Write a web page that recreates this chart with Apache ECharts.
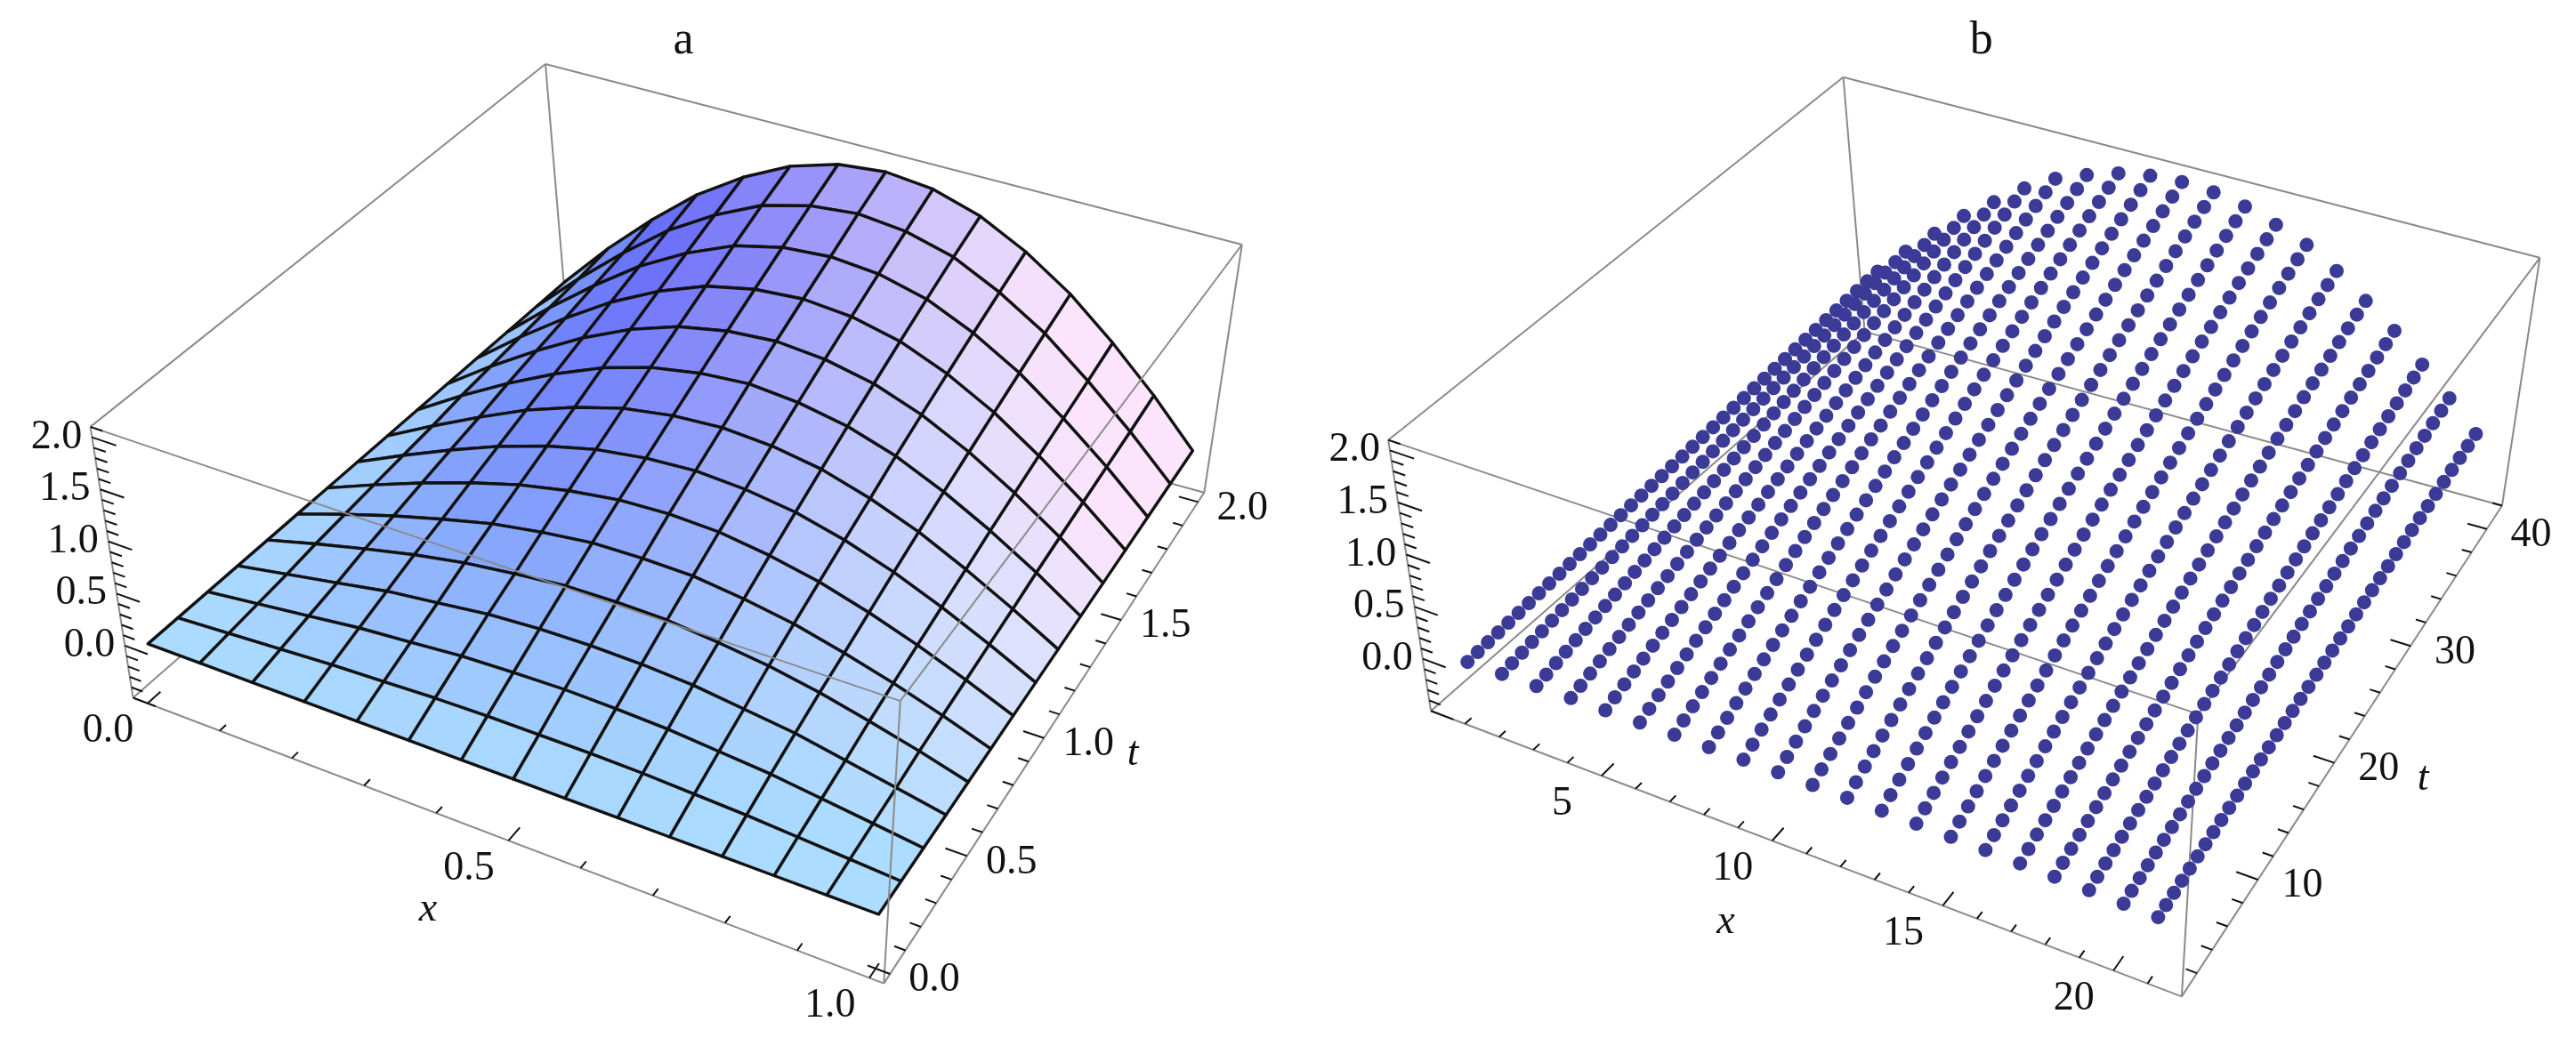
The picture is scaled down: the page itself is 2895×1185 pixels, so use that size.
<!DOCTYPE html>
<html>
<head>
<meta charset="utf-8">
<script src="https://cdn.jsdelivr.net/npm/echarts@6/dist/echarts.min.js"></script>
<style>html,body{margin:0;padding:0;background:#fff}#main{width:2895px;height:1185px}</style>
</head>
<body>
<div id="main"></div>
<script>
/* panel a: surface values, rows = t, columns = x */
const xA = [0,0.071,0.143,0.214,0.286,0.357,0.429,0.5,0.571,0.643,0.714,0.786,0.857,0.929,1];
const tA = [0,0.143,0.286,0.429,0.571,0.714,0.857,1,1.143,1.286,1.429,1.571,1.714,1.857,2];
const zA = [
  [0,0,0,0,0,0,0,0,0,0,0,0,0,0,0],
  [0,.03,.06,.09,.11,.13,.14,.14,.14,.13,.11,.09,.06,.03,0],
  [0,.06,.12,.18,.22,.26,.28,.29,.28,.26,.22,.18,.12,.06,0],
  [0,.09,.18,.27,.33,.39,.42,.43,.42,.39,.33,.27,.18,.09,0],
  [0,.13,.25,.36,.45,.51,.56,.57,.56,.51,.45,.36,.25,.13,0],
  [0,.16,.31,.44,.56,.64,.70,.71,.70,.64,.56,.44,.31,.16,0],
  [0,.19,.37,.53,.67,.77,.84,.86,.84,.77,.67,.53,.37,.19,0],
  [0,.22,.43,.62,.78,.90,.97,1,.97,.90,.78,.62,.43,.22,0],
  [0,.25,.49,.71,.89,1.03,1.11,1.14,1.11,1.03,.89,.71,.49,.25,0],
  [0,.29,.56,.80,1.01,1.16,1.25,1.29,1.25,1.16,1.01,.80,.56,.29,0],
  [0,.32,.62,.89,1.12,1.29,1.39,1.43,1.39,1.29,1.12,.89,.62,.32,0],
  [0,.35,.68,.98,1.23,1.42,1.53,1.57,1.53,1.42,1.23,.98,.68,.35,0],
  [0,.38,.74,1.07,1.34,1.55,1.67,1.71,1.67,1.55,1.34,1.07,.74,.38,0],
  [0,.41,.80,1.16,1.45,1.68,1.81,1.86,1.81,1.68,1.45,1.16,.80,.41,0],
  [0,.45,.87,1.25,1.56,1.80,1.95,2,1.95,1.80,1.56,1.25,.87,.45,0]
];
/* panel b: point grid, value = profile(x) * level(t) */
const xB = [1,2,3,4,5,6,7,8,9,10,11,12,13,14,15,16,17,18,19,20,21];
const profileB = [.14,.28,.41,.54,.65,.76,.85,.91,.96,.99,1,.99,.96,.91,.85,.76,.65,.54,.41,.28,.14];
const tB = [1,2,3,4,5,6,7,8,9,10,11,12,13,14,15,16,17,18,19,20,21,22,23,24,25,26,27,28,29,30,31,32,33,34,35,36,37,38,39,40,41];
const levelB = [.05,.1,.15,.2,.25,.3,.35,.4,.45,.5,.55,.6,.65,.7,.75,.8,.85,.9,.95,1,1.05,1.1,1.15,1.2,1.25,1.3,1.35,1.4,1.45,1.5,1.55,1.6,1.65,1.7,1.75,1.8,1.85,1.9,1.95,2,2.05];
/* tick labels */
const zTicks = [0, 0.5, 1, 1.5, 2];
const xTicksA = [0, 0.5, 1], tTicksA = [0, 0.5, 1, 1.5, 2];
const xTicksB = [5, 10, 15, 20], tTicksB = [10, 20, 30, 40];

// drawing in reference units (1568 x 642), scaled by the axes
const W = 1568, H = 642;
const panels = {
  a: {dx: 0, dy: 0, x: [-0.02, 1.02], t: [-0.04, 2.04], z: [-0.5, 2.1]},
  b: {dx: 790, dy: 8, x: [0, 22], t: [0, 42], z: [-0.5, 2.1]}
};
// floor corners and box height vectors, [x-index][t-index]
const FL = {'00': [81, 425], '10': [538, 599], '01': [345, 194], '11': [733, 300]};
const ZV = {'00': [-26, -165], '10': [10, -172], '01': [-13, -155], '11': [23, -151]};

function bil(M, fx, ft, k) {
  return M['00'][k]*(1-fx)*(1-ft) + M['10'][k]*fx*(1-ft) + M['01'][k]*(1-fx)*ft + M['11'][k]*fx*ft;
}
function proj(p, x, t, z) {
  const fx = (x - p.x[0]) / (p.x[1] - p.x[0]);
  const ft = (t - p.t[0]) / (p.t[1] - p.t[0]);
  const fz = (z - p.z[0]) / (p.z[1] - p.z[0]);
  return [bil(FL, fx, ft, 0) + fz * bil(ZV, fx, ft, 0) + p.dx, bil(FL, fx, ft, 1) + fz * bil(ZV, fx, ft, 1) + p.dy];
}

function mix(a, b, w) { w = Math.max(0, Math.min(1, w)); return a.map((c, i) => c + (b[i] - c) * w); }
function quadColor(x, t, z) {
  let c = [172, 220, 255];
  c = mix(c, [78, 88, 248], (z / 2) * (1 - x) * 2.2);
  c = mix(c, [252, 228, 252], x * (t / 2) * 1.5 - 0.15);
  return 'rgb(' + c.map(Math.round).join(',') + ')';
}

function boxEdges(p, which) {
  const X = p.x, T = p.t, Z = p.z, e = [];
  const c = (i, j, k) => proj(p, X[i], T[j], Z[k]);
  const all = [
    [[0,0,0],[1,0,0],'f'], [[1,0,0],[1,1,0],'f'], [[0,0,0],[0,1,0],'b'], [[0,1,0],[1,1,0],'b'],
    [[0,0,1],[1,0,1],'f'], [[1,0,1],[1,1,1],'f'], [[0,0,1],[0,1,1],'f'], [[0,1,1],[1,1,1],'f'],
    [[0,0,0],[0,0,1],'f'], [[1,0,0],[1,0,1],'f'], [[1,1,0],[1,1,1],'f'], [[0,1,0],[0,1,1],'b']
  ];
  all.forEach(d => { if (which === 'all' || d[2] === which) e.push([c(...d[0]), c(...d[1])]); });
  return e;
}

function axisStuff(p, xTicks, tTicks, xMinor, tMinor, fmt) {
  const L = [], T = [];
  const X = p.x, Tt = p.t, Z = p.z;
  for (let z = -0.5; z <= 2.1001; z += 0.1) {
    const major = Math.abs(z * 2 - Math.round(z * 2)) < 1e-6;
    const a = proj(p, X[0], Tt[0], z), b = proj(p, X[0] + (X[1]-X[0]) * (major ? 0.03 : 0.015), Tt[0], z);
    L.push([a, b]);
  }
  zTicks.forEach(z => { const a = proj(p, X[0], Tt[0], z); T.push({t: z.toFixed(1), x: a[0] - 6, y: a[1], align: 'right'}); });
  for (let x = xMinor[0]; x <= xMinor[1] + 1e-6; x += xMinor[2]) {
    const major = xTicks.some(v => Math.abs(v - x) < 1e-6);
    const a = proj(p, x, Tt[0], Z[0]), b = proj(p, x, Tt[0] + (Tt[1]-Tt[0]) * (major ? 0.03 : 0.015), Z[0]);
    L.push([a, b]);
  }
  xTicks.forEach(x => { const a = proj(p, x, Tt[0], Z[0]); T.push({t: fmt(x), x: a[0] - 24, y: a[1] + 17, align: 'center'}); });
  for (let t = tMinor[0]; t <= tMinor[1] + 1e-6; t += tMinor[2]) {
    const major = tTicks.some(v => Math.abs(v - t) < 1e-6);
    const a = proj(p, X[1], t, Z[0]), b = proj(p, X[1] - (X[1]-X[0]) * (major ? 0.03 : 0.015), t, Z[0]);
    L.push([a, b]);
  }
  tTicks.forEach(t => { const a = proj(p, X[1], t, Z[0]); T.push({t: fmt(t), x: a[0] + 27, y: a[1] + 4, align: 'center'}); });
  return {L, T};
}

function surfaceA() {
  const p = panels.a, quads = [];
  for (let j = 0; j < tA.length - 1; j++) for (let i = 0; i < xA.length - 1; i++) {
    const zs = [zA[j][i], zA[j][i+1], zA[j+1][i+1], zA[j+1][i]];
    const zm = (zs[0] + zs[1] + zs[2] + zs[3]) / 4, xm = (xA[i] + xA[i+1]) / 2, tm = (tA[j] + tA[j+1]) / 2;
    quads.push({
      pts: [proj(p, xA[i], tA[j], zs[0]), proj(p, xA[i+1], tA[j], zs[1]), proj(p, xA[i+1], tA[j+1], zs[2]), proj(p, xA[i], tA[j+1], zs[3])],
      fill: quadColor(xm, tm, zm), depth: xm - tm / 2 + zm * 0.3
    });
  }
  quads.sort((a, b) => a.depth - b.depth);
  return quads;
}

const chart = echarts.init(document.getElementById('main'));
const LBL = '46px "Liberation Serif"', ITAL = 'italic 46px "Liberation Serif"';

function renderAll(params, api) {
  const C = pt => api.coord(pt);
  const kids = [];
  const line = (e, color, w) => kids.push({type: 'line', shape: {x1: C(e[0])[0], y1: C(e[0])[1], x2: C(e[1])[0], y2: C(e[1])[1]}, style: {stroke: color, lineWidth: w}});
  const text = (s, pt, align, font) => { const q = C(pt); kids.push({type: 'text', style: {text: s, x: q[0], y: q[1], align: align, verticalAlign: 'middle', font: font || LBL, fill: '#111'}}); };

  // panel a
  boxEdges(panels.a, 'b').forEach(e => line(e, '#8a8a8a', 2));
  surfaceA().forEach(q => kids.push({type: 'polygon', shape: {points: q.pts.map(C)}, style: {fill: q.fill, stroke: '#111', lineWidth: 3.4, lineJoin: 'round'}}));
  boxEdges(panels.a, 'f').forEach(e => line(e, '#8a8a8a', 2));
  const sa = axisStuff(panels.a, xTicksA, tTicksA, [0, 1, 0.1], [0, 2, 0.1], v => v.toFixed(1));
  sa.L.forEach(e => line(e, '#111', 2));
  sa.T.forEach(o => text(o.t, [o.x, o.y], o.align));
  const xa = proj(panels.a, 0.5, -0.04, -0.5), ta = proj(panels.a, 1.02, 1.0, -0.5);
  text('x', [xa[0] - 49, xa[1] + 42], 'center', ITAL);
  text('t', [ta[0] + 54, ta[1] + 10], 'center', ITAL);
  text('a', [416, 25], 'center', '52px "Liberation Serif"');

  // panel b
  boxEdges(panels.b, 'all').forEach(e => line(e, '#8a8a8a', 2));
  const sb = axisStuff(panels.b, xTicksB, tTicksB, [1, 21, 1], [2, 42, 2], v => String(v));
  sb.L.forEach(e => line(e, '#111', 2));
  sb.T.forEach(o => text(o.t, [o.x, o.y], o.align));
  const xb = proj(panels.b, 11, 0, -0.5), tb = proj(panels.b, 22, 20, -0.5);
  text('x', [xb[0] - 49, xb[1] + 42], 'center', ITAL);
  text('t', [tb[0] + 54, tb[1] + 10], 'center', ITAL);
  text('b', [1206, 25], 'center', '52px "Liberation Serif"');
  return {type: 'group', children: kids};
}

// dots of panel b, projected onto the hidden 2D axes
const dotsB = [];
for (let j = tB.length - 1; j >= 0; j--) xB.forEach((x, i) => dotsB.push(proj(panels.b, x, tB[j], profileB[i] * levelB[j])));

chart.setOption({
  animation: false,
  grid: {left: 0, right: 0, top: 0, bottom: 0},
  xAxis: {type: 'value', min: 0, max: W, show: false},
  yAxis: {type: 'value', min: 0, max: H, inverse: true, show: false},
  series: [
    {type: 'custom', renderItem: renderAll, data: [[0, 0]], silent: true, z: 1},
    {type: 'scatter', data: dotsB, symbolSize: 16, itemStyle: {color: '#3b3a96', opacity: 1}, silent: true, z: 2}
  ]
});
</script>
</body>
</html>
